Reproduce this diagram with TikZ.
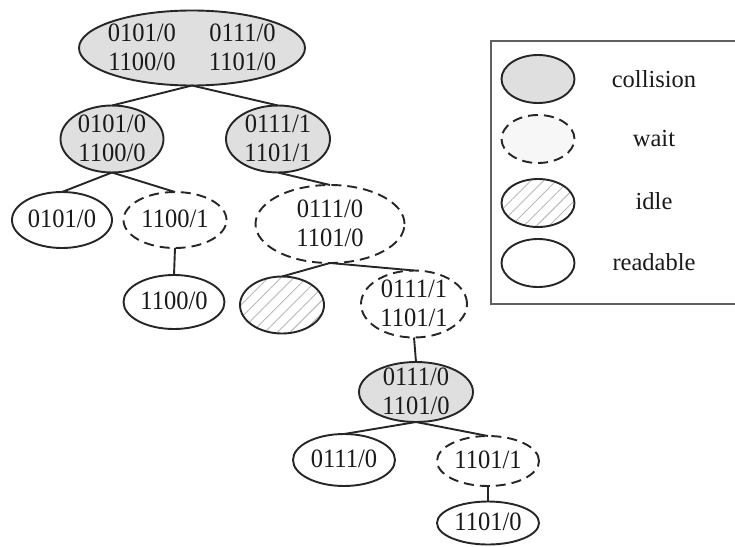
\documentclass[tikz,border=0pt]{standalone}
\usepackage{fontspec}
\setmainfont{Liberation Serif}
\usetikzlibrary{shapes.geometric,patterns.meta}
\newcommand{\tx}[1]{\raisebox{-8.5pt}[0pt][0pt]{\makebox[0pt]{\scalebox{1}[1.08]{\begin{tabular}{@{}c@{}}#1\end{tabular}}}}}
\newcommand{\txx}[1]{\raisebox{-8.5pt}[0pt][0pt]{\makebox[0pt]{\scalebox{1}[1.08]{\begin{tabular}{@{}c@{\hspace{33pt}}c@{}}#1\end{tabular}}}}}
\tikzset{
  base/.style={ellipse, draw=black!85, line width=1.9pt, inner sep=0pt, outer sep=0pt,
    text=black!90, font=\fontsize{24.5}{27}\selectfont},
  sz/.style 2 args={minimum width=#1pt, minimum height=#2pt},
  coll/.style={base, fill=gray!25},
  wt/.style={base, dash pattern=on 10pt off 6pt, fill=white},
  wtl/.style={base, dash pattern=on 10pt off 6pt, fill=gray!6},
  idl/.style={base, pattern={Lines[angle=45,distance=9pt,line width=0.9pt]}, pattern color=gray!55},
  rd/.style={base, fill=white},
  edge/.style={draw=black!85, line width=1.9pt},
  lab/.style={text=black!90, font=\fontsize{24.5}{27}\selectfont, inner sep=0pt},
  legbox/.style={draw=gray!75!black, line width=2.5pt}
}
\begin{document}
\begin{tikzpicture}[x=1pt,y=-1pt]
\useasboundingbox (0,0) rectangle (735,546);
% legend box
\draw[legbox] (491,41) rectangle (745,304);
% tree nodes
\node[coll,sz={226}{75}] (r) at (192,48) {\txx{0101/0&0111/0\\1100/0&1101/0}};
\node[coll,sz={103}{67}] (a) at (112,139) {\tx{0101/0\\1100/0}};
\node[coll,sz={104}{67}] (b) at (278,139) {\tx{0111/1\\1101/1}};
\node[rd,sz={100}{56}] (c) at (62,220) {\tx{0101/0}};
\node[wt,sz={103}{56}] (d) at (175,220) {\tx{1100/1}};
\node[wt,sz={149}{78}] (e) at (330,224) {\tx{0111/0\\1101/0}};
\node[rd,sz={101}{54}] (f) at (174,302) {\tx{1100/0}};
\node[idl,sz={84}{57}] (g) at (282,305) {};
\node[wt,sz={106}{67}] (h) at (414,304) {\tx{0111/1\\1101/1}};
\node[coll,sz={114}{60}] (i) at (416,392) {\tx{0111/0\\1101/0}};
\node[rd,sz={102}{52}] (j) at (344,460) {\tx{0111/0}};
\node[wt,sz={102}{50}] (k) at (488,461) {\tx{1101/1}};
\node[rd,sz={102}{43}] (l) at (488,523) {\tx{1101/0}};
% edges
\draw[edge] (r.south) -- (a.north);
\draw[edge] (r.south) -- (b.north);
\draw[edge] (a.south) -- (c.north);
\draw[edge] (a.south) -- (d.north);
\draw[edge] (b.south) -- (e.north);
\draw[edge] (d.south) -- (f.north);
\draw[edge] (e.south) -- (g.north);
\draw[edge] (e.south) -- (h.north);
\draw[edge] (h.south) -- (i.north);
\draw[edge] (i.south) -- (j.north);
\draw[edge] (i.south) -- (k.north);
\draw[edge] (k.south) -- (l.north);
% legend
\node[coll,sz={73}{48}] (lg1) at (538,79) {};
\node[wtl,sz={73}{48}] (lg2) at (538,139) {};
\node[idl,sz={73}{48}] (lg3) at (538,203) {};
\node[rd,sz={73}{48}] (lg4) at (538,263) {};
\node[lab] (t1) at (654,79) {collision};
\node[lab] (t2) at (654,139) {wait};
\node[lab] (t3) at (654,201) {idle};
\node[lab] (t4) at (654,262) {readable};
\end{tikzpicture}
\end{document}
